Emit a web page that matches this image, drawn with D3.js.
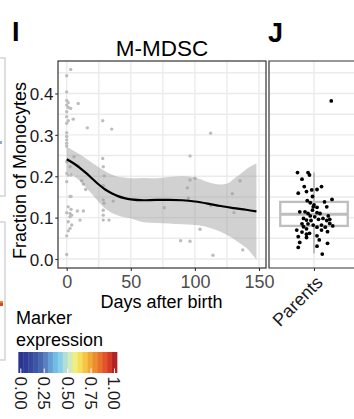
<!DOCTYPE html>
<html><head><meta charset="utf-8">
<script src="https://cdn.jsdelivr.net/npm/d3@7"></script>
<style>
body{margin:0;background:#fff}
svg{display:block}
text{font-family:"Liberation Sans",Arial,Helvetica,sans-serif}
</style>
</head><body>
<svg id="c" width="354" height="419"></svg>
<script>
// ---- data ----
const leftDays = [3.1,0,0,0,1.2,9,0,1.2,3.1,0,5.1,1.2,0,0,28.1,16.1,35.1,0,0,0,0,0,5.7,28.1,
  0,2.6,9,0,1.2,3.4,0,11.7,13,14.8,28.5,29.3,28.5,2.6,3.4,28.5,29.1,36.3,1.2,3.4,0,2.6,3.9,8.3,13,2.6,1.2,10.4,28.5,28.5,28.5,33,3.9,2.6,1.2,0,0,
  96.2,100.1,96.2,94.1,94.9,76.1,104,88.9,96.2,112.3,135.2,129.2,112.3,130.5,114.1,137.3];
const leftFrac = [0.458,0.443,0.404,0.383,0.378,0.376,0.372,0.366,0.364,0.356,0.338,0.334,0.344,0.328,0.334,0.317,0.314,0.305,0.296,0.288,0.280,0.273,0.247,0.243,
  0.235,0.223,0.225,0.207,0.203,0.203,0.187,0.189,0.181,0.168,0.223,0.201,0.177,0.151,0.151,0.143,0.135,0.140,0.126,0.120,0.112,0.110,0.106,0.116,0.116,0.102,0.090,0.094,0.118,0.106,0.094,0.094,0.082,0.074,0.068,0.056,0.011,
  0.249,0.195,0.191,0.172,0.147,0.124,0.072,0.044,0.043,0.304,0.189,0.158,0.129,0.112,0.009,0.022];

const smoothDays = [0,5,10,15,20,25,30,35,40,45,50,60,70,80,90,100,110,120,130,140,148];
const smoothFit  = [0.241,0.232,0.221,0.208,0.194,0.180,0.168,0.159,0.152,0.147,0.144,0.142,0.143,0.143,0.142,0.139,0.134,0.128,0.123,0.119,0.115];

const bandDays  = [0,5,10,15,20,25,30,35,40,45,50,60,70,80,90,100,110,115,120,125,130,135,140,148];
const bandUpper = [0.271,0.262,0.253,0.243,0.232,0.222,0.212,0.204,0.199,0.197,0.195,0.196,0.195,0.198,0.200,0.197,0.186,0.182,0.180,0.182,0.193,0.204,0.217,0.231];
const bandLower = [0.211,0.202,0.189,0.173,0.156,0.138,0.122,0.112,0.105,0.101,0.098,0.089,0.087,0.086,0.084,0.082,0.077,0.072,0.066,0.058,0.049,0.038,0.027,-0.002];

const parentsFrac = [0.209,0.209,0.203,0.193,0.175,0.159,0.163,0.167,0.168,0.175,
  0.144,0.138,0.141,0.136,0.131,0.125,0.118,0.126,0.114,0.114,
  0.110,0.112,0.104,0.098,0.096,0.093,0.086,0.080,0.098,0.094,
  0.093,0.085,0.078,0.073,0.070,0.065,0.060,0.077,0.082,0.077,
  0.054,0.052,0.056,0.046,0.040,0.028,0.031,0.038,0.012,0.126,
  0.104,0.102,0.110,0.151,0.085,0.070,0.082,0.062,0.066,0.096,0.382];
const parentsJitter = [-0.22,-0.08,-0.06,-0.16,-0.13,-0.21,-0.10,-0.03,0.04,0.10,
  0.24,0.14,-0.09,-0.05,0,0.04,-0.02,0.17,-0.19,-0.12,
  -0.08,0.04,0.19,0.12,0.06,0.17,0.21,0.25,-0.14,-0.10,
  -0.04,-0.08,-0.14,-0.10,-0.23,-0.16,-0.10,0.04,0.10,0.15,
  -0.21,-0.10,0.04,0.07,-0.19,-0.21,0.04,0.18,0.11,-0.01,
  -0.05,0.01,0.08,-0.02,-0.16,0.10,-0.01,-0.06,0.18,0.21,0.23];
const parentsBox = [0.014,0.080,0.108,0.138,0.209]; // whisker low, Q1, median, Q3, whisker high
const categories = ["Parents"];

const xTicks = [0,50,100,150];
const xMinor = [25,75,125];
const yTicks = [0,0.1,0.2,0.3,0.4];
const yMinor = [0.05,0.15,0.25,0.35,0.45];
const legendTicks = [0,0.25,0.5,0.75,1];
const legendColors = ["#2b3491","#2f3c96","#35489d","#3d55a5","#4966ae","#5a80bf","#66a0d5","#73bde5","#85d0ec","#b4ddd4",
  "#d3e9bf","#f0ee7e","#f5df5b","#f6c545","#f0aa33","#ec8d2e","#e8712b","#e35428","#d33b27","#b02428"];

// ---- drawing ----
const svg = d3.select("#c");
const FONT = '"Liberation Sans",Arial,Helvetica,sans-serif';
const L = {x0:58, x1:266, y0:61, y1:268};
const R = {x0:269, x1:359, y0:61, y1:268};

const x = d3.scaleLinear().domain([0,150]).range([66.7,259]);
const y = d3.scaleLinear().domain([0,0.4]).range([259,93.5]);
const xr = d3.scaleLinear().domain([0.4,1.6]).range([R.x0,R.x1]);
const xcat = d3.scaleOrdinal().domain(categories).range([1]);
const lg = d3.scaleLinear().domain([0,1]).range([20.8,114.5]);

const grid = "#ebebeb";

// left-edge remnants of the neighbouring panel
svg.append("path").attr("d","M0,58H5V196H0M0,222H5V360H0").attr("fill","none").attr("stroke","#d4d4d4").attr("stroke-width",1.5);
svg.append("rect").attr("x",0).attr("y",141).attr("width",2).attr("height",3).attr("fill","#8fa6d8");
svg.append("rect").attr("x",0).attr("y",301).attr("width",3).attr("height",2).attr("fill","#e8872e");
svg.append("rect").attr("x",0).attr("y",303).attr("width",3).attr("height",3).attr("fill","#d8462a");

// clip paths
const defs = svg.append("defs");
defs.append("clipPath").attr("id","clipL").append("rect").attr("x",L.x0).attr("y",L.y0).attr("width",L.x1-L.x0).attr("height",L.y1-L.y0);
defs.append("clipPath").attr("id","clipR").append("rect").attr("x",R.x0).attr("y",R.y0).attr("width",R.x1-R.x0).attr("height",R.y1-R.y0);

// ---- left panel ----
const gL = svg.append("g").attr("clip-path","url(#clipL)");
gL.selectAll(".hy").data(yMinor.concat(yTicks)).join("line")
  .attr("x1",L.x0).attr("x2",L.x1).attr("y1",d=>y(d)).attr("y2",d=>y(d))
  .attr("stroke",grid).attr("stroke-width",1.4);
gL.selectAll(".vx").data(xMinor.concat(xTicks)).join("line")
  .attr("y1",L.y0).attr("y2",L.y1).attr("x1",d=>x(d)).attr("x2",d=>x(d))
  .attr("stroke",grid).attr("stroke-width",1.4);

gL.selectAll("circle.pt").data(leftDays.map((d,i)=>[d,leftFrac[i]])).join("circle")
  .attr("cx",d=>x(d[0])).attr("cy",d=>y(d[1])).attr("r",1.7).attr("fill","#bdbdbd");

const area = d3.area().x(d=>x(d[0])).y0(d=>y(d[2])).y1(d=>y(d[1])).curve(d3.curveMonotoneX);
gL.append("path").datum(bandDays.map((d,i)=>[d,bandUpper[i],bandLower[i]]))
  .attr("d",area).attr("fill","#999999").attr("fill-opacity",0.45);
const line = d3.line().x(d=>x(d[0])).y(d=>y(d[1])).curve(d3.curveMonotoneX);
gL.append("path").datum(smoothDays.map((d,i)=>[d,smoothFit[i]]))
  .attr("d",line).attr("fill","none").attr("stroke","#000").attr("stroke-width",2.2);

svg.append("rect").attr("x",L.x0).attr("y",L.y0).attr("width",L.x1-L.x0).attr("height",L.y1-L.y0)
  .attr("fill","none").attr("stroke","#333").attr("stroke-width",1.2);

// ---- right panel ----
const gR = svg.append("g").attr("clip-path","url(#clipR)");
gR.selectAll(".hy").data(yMinor.concat(yTicks)).join("line")
  .attr("x1",R.x0).attr("x2",R.x1).attr("y1",d=>y(d)).attr("y2",d=>y(d))
  .attr("stroke",grid).attr("stroke-width",1.4);
gR.selectAll(".vx").data(categories).join("line")
  .attr("y1",R.y0).attr("y2",R.y1).attr("x1",d=>xr(xcat(d))).attr("x2",d=>xr(xcat(d)))
  .attr("stroke",grid).attr("stroke-width",1.4);

const cx = xr(xcat("Parents"));
const bw = xr(1.45)-xr(1);
const boxCol = "#bebebe";
gR.append("line").attr("x1",cx).attr("x2",cx).attr("y1",y(parentsBox[0])).attr("y2",y(parentsBox[4]))
  .attr("stroke",boxCol).attr("stroke-width",2);
gR.append("rect").attr("x",cx-bw).attr("width",2*bw).attr("y",y(parentsBox[3])).attr("height",y(parentsBox[1])-y(parentsBox[3]))
  .attr("fill","#fff").attr("stroke",boxCol).attr("stroke-width",2.3);
gR.append("line").attr("x1",cx-bw).attr("x2",cx+bw).attr("y1",y(parentsBox[2])).attr("y2",y(parentsBox[2]))
  .attr("stroke",boxCol).attr("stroke-width",3);

gR.selectAll("circle.pp").data(parentsFrac.map((d,i)=>[parentsJitter[i],d])).join("circle")
  .attr("cx",d=>xr(xcat("Parents")+d[0])).attr("cy",d=>y(d[1])).attr("r",1.9).attr("fill","#000");

svg.append("path").attr("d",`M${R.x1+2},${R.y0}H${R.x0}V${R.y1}H${R.x1+2}`)
  .attr("fill","none").attr("stroke","#333").attr("stroke-width",1.2);

// ---- axes ----
const ay = svg.append("g").attr("transform",`translate(${L.x0},0)`)
  .call(d3.axisLeft(y).tickValues(yTicks).tickSize(2.75).tickPadding(1.8).tickFormat(d3.format(".1f")));
ay.select(".domain").remove();
ay.selectAll("line").attr("stroke","#333").attr("stroke-width",1.1);
ay.selectAll("text").attr("font-family",FONT).attr("font-size",17).attr("fill","#1a1a1a").attr("dy","0.36em");

const ax = svg.append("g").attr("transform",`translate(0,${L.y1})`)
  .call(d3.axisBottom(x).tickValues(xTicks).tickSize(3).tickPadding(4.5));
ax.select(".domain").remove();
ax.selectAll("line").attr("stroke","#333").attr("stroke-width",1.1);
ax.selectAll("text").attr("font-family",FONT).attr("font-size",18).attr("fill","#4d4d4d");

const axr = svg.append("g").attr("transform",`translate(0,${R.y1})`)
  .call(d3.axisBottom(d3.scaleLinear().domain(xr.domain()).range(xr.range())).tickValues([xcat("Parents")]).tickSize(3).tickFormat(""));
axr.select(".domain").remove();
axr.selectAll("line").attr("stroke","#333").attr("stroke-width",1.1);

svg.append("text").text(categories[0]).attr("font-size",18).attr("fill","#1a1a1a")
  .attr("text-anchor","middle").attr("transform","translate(302,305.5) rotate(-45)");

// titles
svg.append("text").text("M-MDSC").attr("x",(L.x0+L.x1)/2).attr("y",56).attr("text-anchor","middle")
  .attr("font-size",22.5).attr("fill","#000");
svg.append("text").text("I").attr("x",12).attr("y",41).attr("font-size",27).attr("font-weight","bold").attr("fill","#000");
svg.append("text").text("J").attr("x",268).attr("y",42).attr("font-size",27).attr("font-weight","bold").attr("fill","#000");
svg.append("text").text("Fraction of Monocytes").attr("text-anchor","middle").attr("font-size",18).attr("fill","#000")
  .attr("transform","translate(25.5,170.5) rotate(-90)");
svg.append("text").text("Days after birth").attr("x",161.5).attr("y",308.3).attr("text-anchor","middle")
  .attr("font-size",18).attr("fill","#000");

// ---- legend ----
svg.append("text").text("Marker").attr("x",16).attr("y",324).attr("font-size",18).attr("fill","#000");
svg.append("text").text("expression").attr("x",16).attr("y",345.5).attr("font-size",18).attr("fill","#000");
const binW = (lg(1)-lg(0))/(legendColors.length-1);
svg.selectAll("rect.bin").data(legendColors).join("rect")
  .attr("x",(d,i)=>lg(i/(legendColors.length-1))-binW/2).attr("y",352).attr("width",binW+0.4).attr("height",21)
  .attr("fill",d=>d);
svg.selectAll("line.lt").data(legendTicks).join("line")
  .attr("x1",d=>lg(d)).attr("x2",d=>lg(d)).attr("y1",368.5).attr("y2",373)
  .attr("stroke","#fff").attr("stroke-width",1);
svg.selectAll("text.ll").data(legendTicks).join("text")
  .text(d=>d3.format(".2f")(d)).attr("font-size",17).attr("fill","#1a1a1a")
  .attr("dy","0.36em")
  .attr("transform",d=>`translate(${lg(d)},376.5) rotate(90)`);
</script>
</body></html>
